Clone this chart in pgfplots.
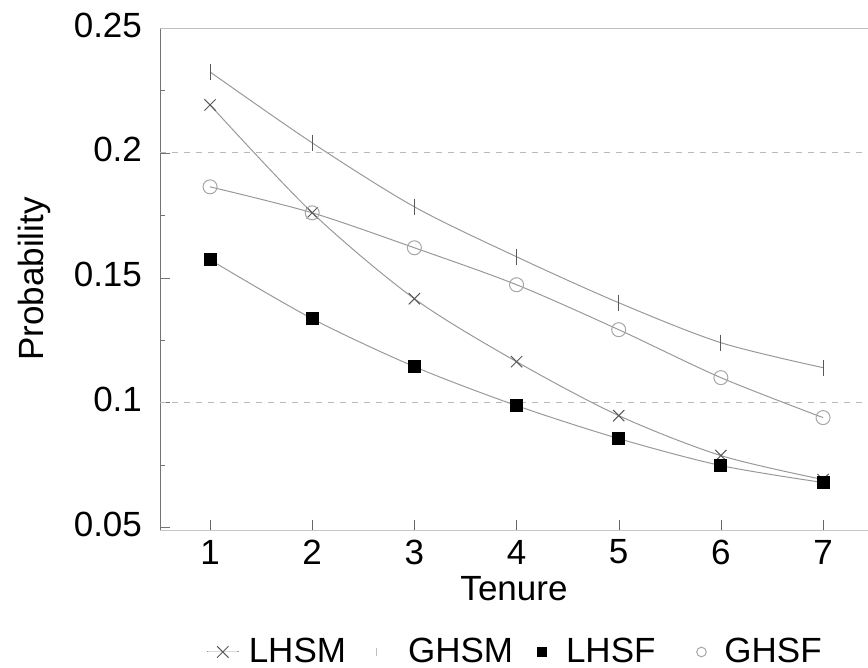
\documentclass[border=0pt]{standalone}
\usepackage{fontspec}
\setmainfont{Liberation Sans}
\usepackage{pgfplots}
\pgfplotsset{compat=1.18}
\pgfplotsset{
  % legend shows only the marker, with room before (#2) and after (#3) it
  markleg/.style n args={3}{legend image code/.code={%
    \path[draw=none] (-#2,0pt) -- (#3,0pt);
    \draw[##1,#1] plot coordinates {(0pt,0pt)};}},
  lineleg/.style={legend image code/.code={%
    \path[draw=none] (0pt,0pt) -- (21pt,0pt);
    \draw[##1, mark repeat=2, mark phase=2] plot coordinates {(0pt,0pt) (8pt,0pt) (16pt,0pt)};}},
}

\begin{document}
\begin{tikzpicture}
\useasboundingbox (-80pt,-69pt) rectangle (354pt,265pt);
\begin{axis}[
  scale only axis,
  width=354pt, height=251pt,
  xmin=0.51, xmax=7.44,
  ymin=0.049, ymax=0.25,
  axis x line*=bottom,
  axis y line*=left,
  x axis line style={gray!45, -},
  y axis line style={black!55, -},
  xtick={1,2,3,4,5,6,7},
  ytick={0.05,0.1,0.15,0.2,0.25},
  yticklabels={0.05,0.1,0.15,0.2,0.25},
  minor ytick={0.075,0.125,0.175,0.225},
  tick align=inside,
  major tick length=5pt,
  minor tick length=2.5pt,
  xtick style={black!60},
  ytick style={black!55},
  font=\fontsize{17.5}{21}\selectfont,
  /pgf/number format/assume math mode=true,
  xticklabel style={anchor=center, yshift=-11pt},
  yticklabel style={anchor=east, xshift=-5.5pt, yshift=1.5pt},
  xlabel={Tenure},
  ylabel={Probability},
  xlabel style={at={(axis description cs:0.5,-0.117)}, anchor=center},
  ylabel style={at={(axis description cs:-0.177,0.5)}, anchor=center},
  legend columns=4,
  legend style={at={(0.5,-0.243)}, anchor=center, draw=none, fill=none,
    nodes={inner sep=0pt}, column sep=0pt},
  legend cell align=left,
]
  % reference lines
  \draw[gray!55, dashed] (axis cs:0.51,0.2) -- (axis cs:7.44,0.2);
  \draw[gray!55, dashed] (axis cs:0.51,0.1) -- (axis cs:7.44,0.1);
  \draw[gray!50] (axis cs:0.51,0.25) -- (axis cs:7.44,0.25);

  % LHSM
  \addplot[gray!80, line width=0.5pt, smooth, mark=x, mark size=4pt,
    mark options={black!65, solid}, lineleg]
    coordinates {(1,0.2192) (2,0.176) (3,0.1416) (4,0.1164) (5,0.0948) (6,0.0788) (7,0.0692)};
  \addlegendentry{LHSM}
  % GHSM
  \addplot[gray!80, line width=0.5pt, smooth, mark=|, mark size=4pt,
    mark options={black!65, solid}, markleg={mark size=2pt, mark options={gray!50}}{15pt}{16pt}]
    coordinates {(1,0.2324) (2,0.204) (3,0.1784) (4,0.1584) (5,0.140) (6,0.124) (7,0.114)};
  \addlegendentry{GHSM}
  % LHSF
  \addplot[gray!80, line width=0.5pt, smooth, mark=square*, mark size=3pt,
    mark options={black, solid}, markleg={mark size=2.2pt}{14.5pt}{12pt}]
    coordinates {(1,0.1572) (2,0.1336) (3,0.1144) (4,0.0988) (5,0.0856) (6,0.0748) (7,0.068)};
  \addlegendentry{LHSF}
  % GHSF
  \addplot[gray!80, line width=0.5pt, smooth, mark=o, mark size=3.5pt,
    mark options={gray!70, solid}, markleg={mark size=2.4pt}{23pt}{11.5pt}]
    coordinates {(1,0.1864) (2,0.176) (3,0.162) (4,0.1472) (5,0.1292) (6,0.110) (7,0.094)};
  \addlegendentry{GHSF}
\end{axis}
\end{tikzpicture}
\end{document}
